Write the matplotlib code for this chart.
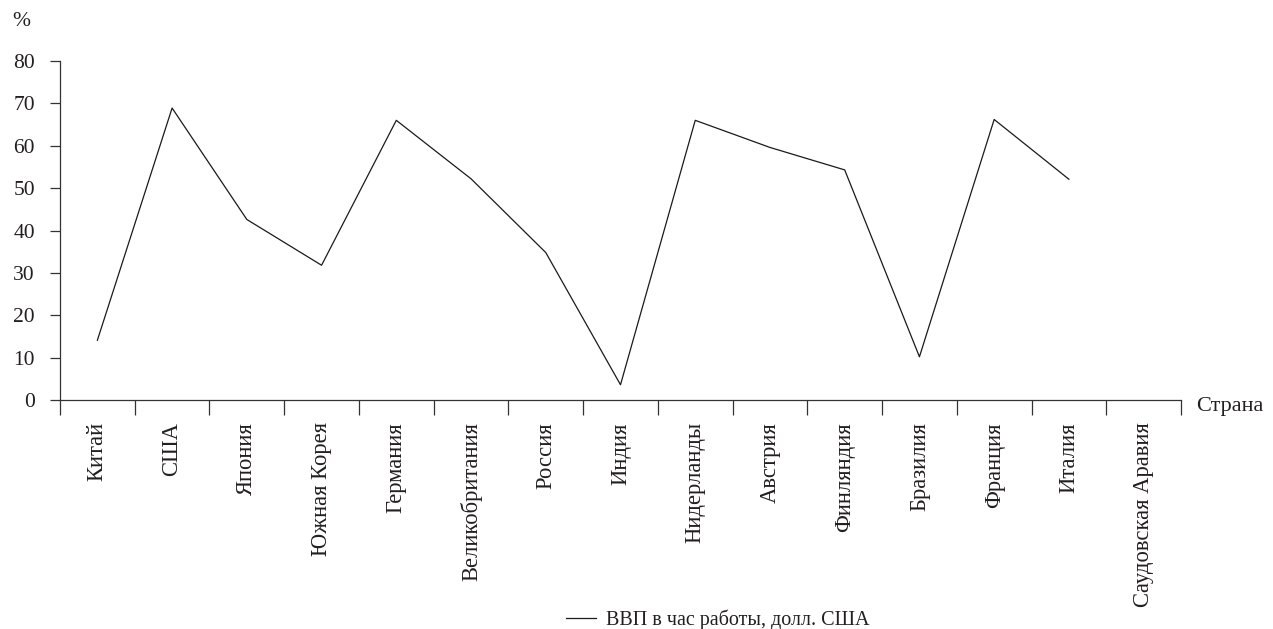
import matplotlib
matplotlib.use("Agg")
import matplotlib.pyplot as plt
import numpy as np

plt.rcParams['font.family'] = ['Liberation Serif', 'DejaVu Serif']

countries = ["Китай", "США", "Япония", "Южная Корея", "Германия", "Великобритания",
             "Россия", "Индия", "Нидерланды", "Австрия", "Финляндия", "Бразилия",
             "Франция", "Италия", "Саудовская Аравия"]
gdp_per_hour = [14.1, 68.9, 42.6, 31.8, 66.0, 52.2, 34.8, 3.6, 66.0, 59.6, 54.3, 10.2,
                66.2, 52.1, np.nan]
yticks = [0, 10, 20, 30, 40, 50, 60, 70, 80]
series_label = "ВВП в час работы, долл. США"

fig = plt.figure(figsize=(12.73, 6.29), dpi=100)
ax = fig.add_axes([60/1273, 1 - 400/629, (1181 - 60)/1273, (400 - 61)/629])

x = np.arange(len(countries))
line, = ax.plot(x, gdp_per_hour, color='#1a1a1a', lw=0.9, label=series_label)

ax.set_xlim(-0.5, len(countries) - 0.5)
ax.set_ylim(0, 80)
ax.set_yticks(yticks)
ax.set_yticklabels([str(v) for v in yticks], fontsize=15.5, color='#231f20')

ax.set_xticks(x)
ax.set_xticklabels(countries, rotation=90, fontsize=16.3, color='#231f20', va='top')
ax.set_xticks(np.arange(len(countries) + 1) - 0.5, minor=True)
ax.tick_params(axis='x', which='major', length=0, pad=16)
ax.tick_params(axis='x', which='minor', length=10.5, width=0.9, color='#333333', direction='out')
ax.tick_params(axis='y', length=7, width=0.9, color='#333333', pad=11)

for s in ['top', 'right']:
    ax.spines[s].set_visible(False)
for s in ['left', 'bottom']:
    ax.spines[s].set_linewidth(0.9)
    ax.spines[s].set_color('#333333')

fig.text(12/1273, 1 - 22/629, "%", fontsize=15.5, color='#231f20', ha='left', va='center')
fig.text(1196/1273, 1 - 406/629, "Страна", fontsize=16, color='#231f20', ha='left', va='center')

fig.legend(handles=[line], loc='center', bbox_to_anchor=(718/1273, 1 - 620/629),
           frameon=False, fontsize=14.5, handlelength=1.5, handletextpad=0.5,
           labelcolor='#231f20')

fig.savefig("out.png", dpi=100)
